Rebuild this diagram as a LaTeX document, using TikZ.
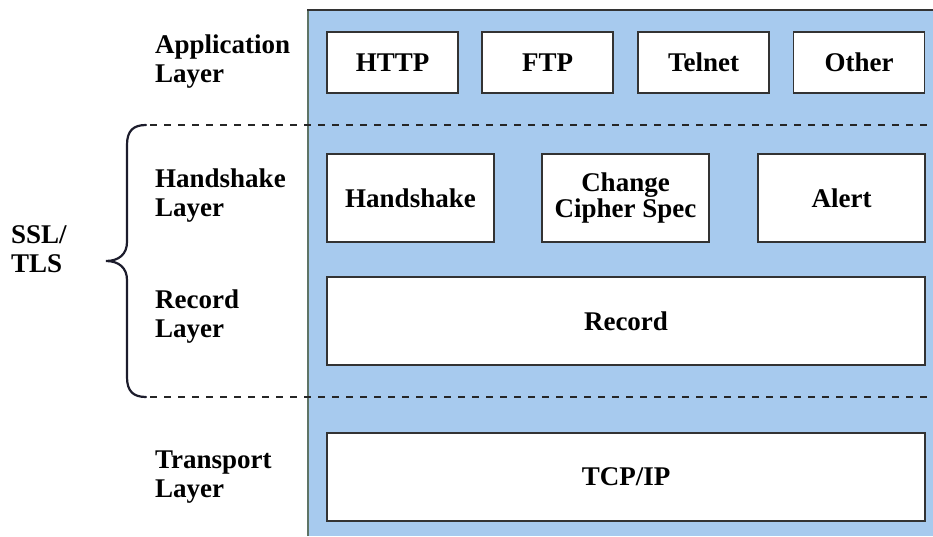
\documentclass[tikz,border=0pt]{standalone}
\usepackage{fontspec}
\setmainfont{Liberation Serif}
\definecolor{panelblue}{HTML}{A7CAEE}
\definecolor{paneledge}{HTML}{5E7466}
\definecolor{boxedge}{HTML}{333333}
\definecolor{bracecol}{HTML}{1C1C2C}
\begin{document}
\begin{tikzpicture}[x=1pt,y=-1pt,
  txt/.style={font=\fontsize{27}{29}\selectfont\bfseries},
  box/.style={txt, draw=boxedge, line width=1.8pt, fill=white, inner sep=0pt, align=center},
  appbox/.style={box, minimum width=131pt, minimum height=61pt},
  hsbox/.style={box, minimum width=167pt, minimum height=88pt},
  widebox/.style={box, minimum width=598pt, minimum height=88pt},
  lbl/.style={txt, anchor=west, align=left, inner sep=0pt},
  sep/.style={draw=black!85, line width=1.5pt, dash pattern=on 7pt off 7pt},
  bracestyle/.style={draw=bracecol, line width=2.2pt, line cap=round}]
\useasboundingbox (0,0) rectangle (933,536);
% panel
\fill[panelblue] (308,10) rectangle (933,536);
\draw[paneledge, line width=2pt] (308,536) -- (308,10);
\draw[boxedge, line width=2pt] (307,10) -- (933,10);
% separators
\coordinate (d1a) at (150,125); \coordinate (d1b) at (933,125);
\coordinate (d2a) at (150,397); \coordinate (d2b) at (933,397);
\draw[sep] (d1a) -- (d1b);
\draw[sep] (d2a) -- (d2b);
% application boxes
\node[appbox] (http) at (392.5,62.5) {HTTP};
\node[appbox] (ftp) at (547.5,62.5) {FTP};
\node[appbox] (telnet) at (703.5,62.5) {Telnet};
\node[appbox] (other) at (859,62.5) {Other};
% handshake layer
\node[hsbox] (hs) at (410.5,198) {Handshake};
\node[hsbox] (ccs) at (625.5,198) {Change\\[-3pt]Cipher Spec};
\node[hsbox] (alert) at (841.5,198) {Alert};
% record and transport
\node[widebox] (rec) at (626,321) {Record};
\node[widebox] (tcp) at (626,477) {TCP/IP};
% labels
\node[lbl] (lapp) at (155,62) {Application\\Layer};
\node[lbl] (lhs) at (155,196) {Handshake\\Layer};
\node[lbl] (lrec) at (155,317) {Record\\Layer};
\node[lbl] (ltr) at (155,477) {Transport\\Layer};
\node[lbl] (ssl) at (11,249) {SSL/\\TLS};
% brace
\draw[bracestyle] (146,125) .. controls (133,125) and (127,131) .. (127,145) -- (127,242)
  .. controls (127,254) and (119,261) .. (106,261)
  .. controls (119,261) and (127,268) .. (127,280) -- (127,377)
  .. controls (127,391) and (133,397) .. (146,397);
\end{tikzpicture}
\end{document}
